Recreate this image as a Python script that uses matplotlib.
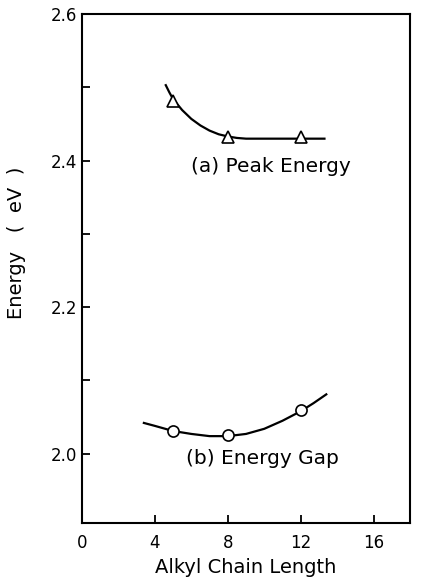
import matplotlib
matplotlib.use("Agg")
import matplotlib.pyplot as plt

# measured points
chain_len = [5, 8, 12]
peak_energy = [2.482, 2.432, 2.432]
energy_gap = [2.031, 2.025, 2.059]

# hand-drawn guide curves
peak_curve_x = [4.6, 4.8, 5.0, 5.5, 6.0, 6.5, 7.0, 7.5, 8.0, 8.5, 9.0, 10.0, 11.0, 12.0, 13.3]
peak_curve_y = [2.503, 2.493, 2.484, 2.469, 2.457, 2.448, 2.441, 2.436, 2.433, 2.431,
                2.430, 2.430, 2.430, 2.430, 2.430]
gap_curve_x = [3.4, 4.0, 5.0, 6.0, 7.0, 8.0, 9.0, 10.0, 11.0, 12.0, 12.7, 13.4]
gap_curve_y = [2.042, 2.038, 2.031, 2.027, 2.024, 2.024, 2.027, 2.034, 2.045, 2.058,
               2.069, 2.081]

x_ticks = [0, 4, 8, 12, 16]
y_major = [2.0, 2.2, 2.4, 2.6]
y_minor = [2.1, 2.3, 2.5]

fig = plt.figure(figsize=(4.22, 5.88), dpi=100)
ax = fig.add_axes([0.194, 0.110, 0.778, 0.866])

ax.plot(peak_curve_x, peak_curve_y, color="black", lw=1.6)
ax.plot(gap_curve_x, gap_curve_y, color="black", lw=1.6)
ax.plot(chain_len, peak_energy, linestyle="none", marker="^", markersize=9,
        markerfacecolor="white", markeredgecolor="black", markeredgewidth=1.2)
ax.plot(chain_len, energy_gap, linestyle="none", marker="o", markersize=8,
        markerfacecolor="white", markeredgecolor="black", markeredgewidth=1.2)

ax.text(6.0, 2.392, "(a) Peak Energy", fontsize=14.5, va="center", ha="left")
ax.text(5.7, 1.993, "(b) Energy Gap", fontsize=14.5, va="center", ha="left")

ax.set_xlim(0, 18)
ax.set_ylim(1.905, 2.6)
ax.set_xticks(x_ticks)
ax.set_yticks(y_major)
ax.set_yticks(y_minor, minor=True)
ax.set_yticklabels(["2.0", "2.2", "2.4", "2.6"])
ax.tick_params(axis="both", which="both", direction="in", length=6, width=1.3,
               labelsize=12, top=False, right=False)
ax.tick_params(axis="x", pad=8)

for s in ax.spines.values():
    s.set_linewidth(1.5)

ax.set_xlabel("Alkyl Chain Length", fontsize=14)
ax.set_ylabel("Energy   (  eV  )", fontsize=14)
ax.yaxis.set_label_coords(-0.17, 0.55)

fig.savefig("out.png", dpi=100)
